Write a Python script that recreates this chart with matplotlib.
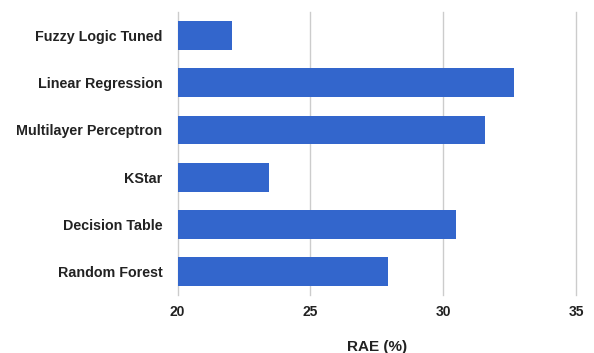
import matplotlib.pyplot as plt

# Erreur absolue relative par méthode
methods = ["Fuzzy Logic Tuned", "Linear Regression", "Multilayer Perceptron",
           "KStar", "Decision Table", "Random Forest"]
rae = [22.03, 32.66, 31.57, 23.44, 30.48, 27.93]
xticks = [20, 25, 30, 35]

plt.rcParams['font.family'] = ['Liberation Sans', 'DejaVu Sans']

fig = plt.figure(figsize=(5.94, 3.53), dpi=100)
ax = fig.add_axes([0.299, 0.164, 0.671, 0.802])

pos = list(range(len(methods)))
ax.barh(pos, [v - 20 for v in rae], left=20, height=0.61, color="#3366cc", zorder=2)

ax.set_xlim(20, 35)
ax.set_ylim(len(methods) - 0.5, -0.5)
ax.set_xticks(xticks)
ax.set_xticklabels([str(t) for t in xticks], fontweight="bold", fontsize=10, color="#222222")
ax.set_yticks(pos)
ax.set_yticklabels(methods, fontweight="bold", fontsize=10.3, color="#222222")
ax.tick_params(axis="y", length=0, pad=11)
ax.tick_params(axis="x", length=0, pad=7)

ax.grid(axis="x", color="#cccccc", linewidth=1, zorder=0)
for gl in ax.get_xgridlines():
    gl.set_clip_on(False)
for s in ax.spines.values():
    s.set_visible(False)

ax.set_xlabel("RAE (%)", fontweight="bold", fontsize=11, color="#222222", labelpad=15)

fig.savefig("out.png", dpi=100)
